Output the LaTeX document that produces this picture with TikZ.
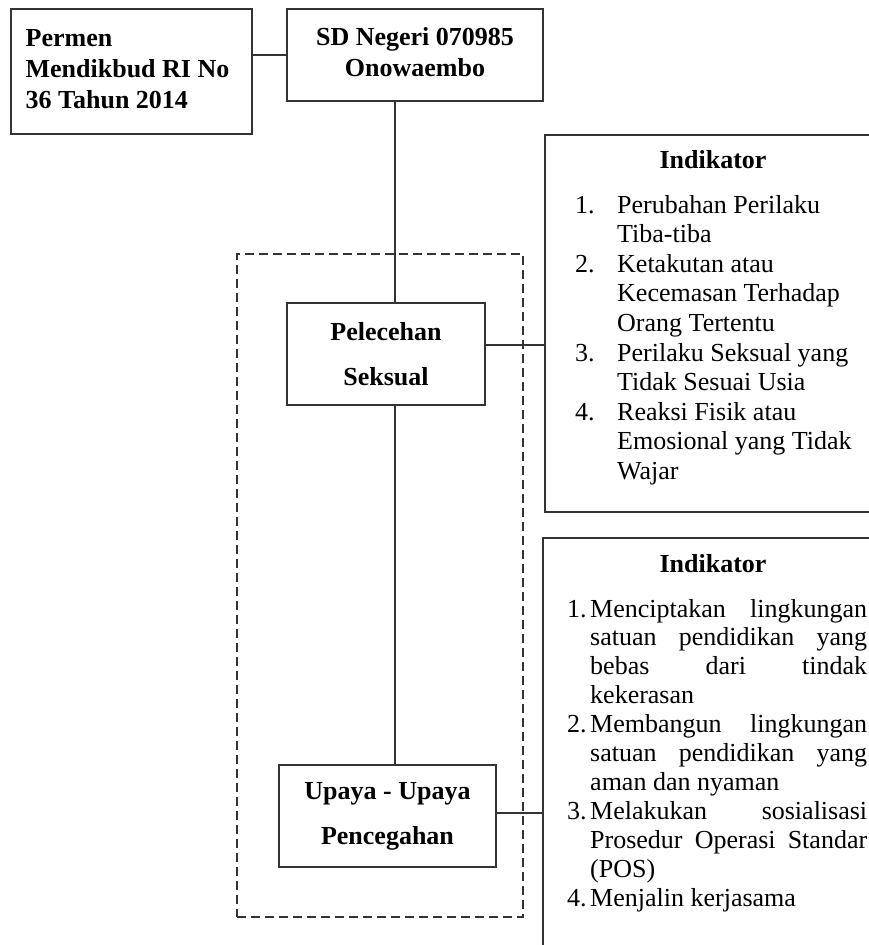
\documentclass[tikz,border=0pt]{standalone}
\usepackage{fontspec}
\setmainfont{Liberation Serif}
\definecolor{ln}{HTML}{333333}
\newcommand{\jline}[1]{\makebox[277pt][s]{#1}}
\newcommand{\numA}[1]{\makebox[42pt][l]{#1}}
\newcommand{\numB}[1]{\makebox[23pt][l]{#1}}
\tikzset{
  box/.style={draw=ln, line width=1.4pt, rectangle, inner sep=0pt, align=center,
    font=\bfseries\fontsize{26}{31}\selectfont},
  widebox/.style={box, font=\bfseries\fontsize{26}{45}\selectfont},
  conn/.style={draw=ln, line width=1.1pt},
  grp/.style={draw=ln, line width=1.3pt, dash pattern=on 9pt off 5pt, rectangle, inner sep=0pt},
  lst/.style={inner sep=0pt, anchor=base west, font=\fontsize{26}{29.6}\selectfont},
  lstb/.style={inner sep=0pt, anchor=base west, font=\fontsize{26}{28.9}\selectfont},
  ttl/.style={inner sep=0pt, anchor=base, font=\bfseries\fontsize{26}{29.6}\selectfont}
}
\begin{document}
\begin{tikzpicture}[x=1pt,y=-1pt]
\useasboundingbox (0,0) rectangle (869,945);
\clip (0,0) rectangle (869,945);

% dashed group
\node[grp, minimum width=286pt, minimum height=663pt] (grp) at (380,585.5) {};

% boxes
\node[box, minimum width=241pt, minimum height=125pt] (permen) at (131.5,71.5)
  {\raisebox{4pt}{\begin{tabular}{@{}l@{}}Permen\\Mendikbud RI No\\36 Tahun 2014\end{tabular}}\hspace{8pt}};
\node[box, minimum width=256pt, minimum height=92pt] (sd) at (415,55)
  {\raisebox{4pt}{\begin{tabular}{@{}c@{}}SD Negeri 070985\\Onowaembo\end{tabular}}};
\node[widebox, minimum width=198pt, minimum height=102pt] (pel) at (386,354)
  {Pelecehan\\Seksual};
\node[widebox, minimum width=217pt, minimum height=102pt] (up) at (387.5,816)
  {Upaya - Upaya\\Pencegahan};

% indicator boxes
\node[box, minimum width=336pt, minimum height=377pt] (ind1) at (713,323.5) {};
\node[box, minimum width=340pt, minimum height=422pt] (ind2) at (713,749) {};

\node[ttl] (t1) at (713,168) {Indikator};
\node[lst] (l1) at (575,213) {\begin{tabular}[t]{@{}l@{}l@{}}
\numA{1.} & Perubahan Perilaku\\
 & Tiba-tiba\\
\numA{2.} & Ketakutan atau\\
 & Kecemasan Terhadap\\
 & Orang Tertentu\\
\numA{3.} & Perilaku Seksual yang\\
 & Tidak Sesuai Usia\\
\numA{4.} & Reaksi Fisik atau\\
 & Emosional yang Tidak\\
 & Wajar
\end{tabular}};

\node[ttl] (t2) at (713,572) {Indikator};
\node[lstb] (l2) at (567,617) {\begin{tabular}[t]{@{}l@{}l@{}}
\numB{1.} & \jline{Menciptakan lingkungan}\\
 & \jline{satuan pendidikan yang}\\
 & \jline{bebas dari tindak}\\
 & kekerasan\\
\numB{2.} & \jline{Membangun lingkungan}\\
 & \jline{satuan pendidikan yang}\\
 & aman dan nyaman\\
\numB{3.} & \jline{Melakukan sosialisasi}\\
 & \jline{Prosedur Operasi Standar}\\
 & (POS)\\
\numB{4.} & Menjalin kerjasama
\end{tabular}};

% connectors
\coordinate (sp) at (395,0);
\coordinate (c1) at (0,345);
\coordinate (c2) at (0,813);
\draw[conn] (permen.east |- sd.west) -- (sd.west);
\draw[conn] (sd.south -| sp) -- (pel.north -| sp);
\draw[conn] (pel.south -| sp) -- (up.north -| sp);
\draw[conn] (pel.east |- c1) -- (ind1.west |- c1);
\draw[conn] (up.east |- c2) -- (ind2.west |- c2);
\end{tikzpicture}
\end{document}
